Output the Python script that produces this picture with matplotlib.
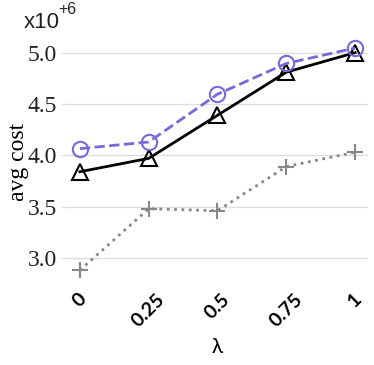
import matplotlib
matplotlib.use("Agg")
import matplotlib.pyplot as plt

# values in units of 1e6
lam_labels = ["0", "0.25", "0.5", "0.75", "1"]
lam = [0, 0.25, 0.5, 0.75, 1]
cost_circle = [4.065, 4.13, 4.595, 4.895, 5.045]
cost_triangle = [3.84, 3.97, 4.39, 4.81, 5.0]
cost_plus = [2.88, 3.48, 3.46, 3.89, 4.03]
y_ticks = [3.0, 3.5, 4.0, 4.5, 5.0]

fig = plt.figure(figsize=(3.74, 3.65), dpi=100)
ax = fig.add_axes([0.179, 0.223, 0.805, 0.703])

ax.plot(lam, cost_plus, color="#888888", linestyle=":", linewidth=2,
        marker="+", markersize=11, markeredgewidth=1.5)
ax.plot(lam, cost_triangle, color="black", linestyle="-", linewidth=2,
        marker="^", markersize=11, markerfacecolor="none", markeredgewidth=1.5)
ax.plot(lam, cost_circle, color="#7b68d8", linestyle="--", linewidth=2,
        marker="o", markersize=11, markerfacecolor="none", markeredgewidth=1.5)

ax.set_xlim(-0.047, 1.047)
ax.set_ylim(2.75, 5.25)
ax.set_yticks(y_ticks)
ax.set_yticklabels([f"{v:.1f}" for v in y_ticks], family="Liberation Serif", fontsize=17, color="#222222")
ax.set_xticks(lam)
ax.set_xticklabels(lam_labels, rotation=45, family="Lato", fontsize=14, fontweight="bold",
                   ha="center", va="top", rotation_mode="default")
ax.grid(axis="y", color="#dddddd", linewidth=1)
ax.set_axisbelow(True)
for s in ax.spines.values():
    s.set_visible(False)
ax.tick_params(axis="y", length=4, color="#dddddd", pad=3)
ax.tick_params(axis="x", length=0, pad=5)

ax.set_ylabel("avg cost", family="Liberation Serif", fontsize=17)
ax.yaxis.set_label_coords(-0.125, 0.475)
ax.set_xlabel("λ", family="Lato", fontsize=15, labelpad=5)

# axis multiplier
fig.text(0.064, 0.923, "x10", family="Liberation Sans", fontsize=16, color="#222222", va="baseline")
fig.text(0.157, 0.962, "+6", family="Liberation Sans", fontsize=11.5, color="#222222", va="baseline")

fig.savefig("out.png", dpi=100)
